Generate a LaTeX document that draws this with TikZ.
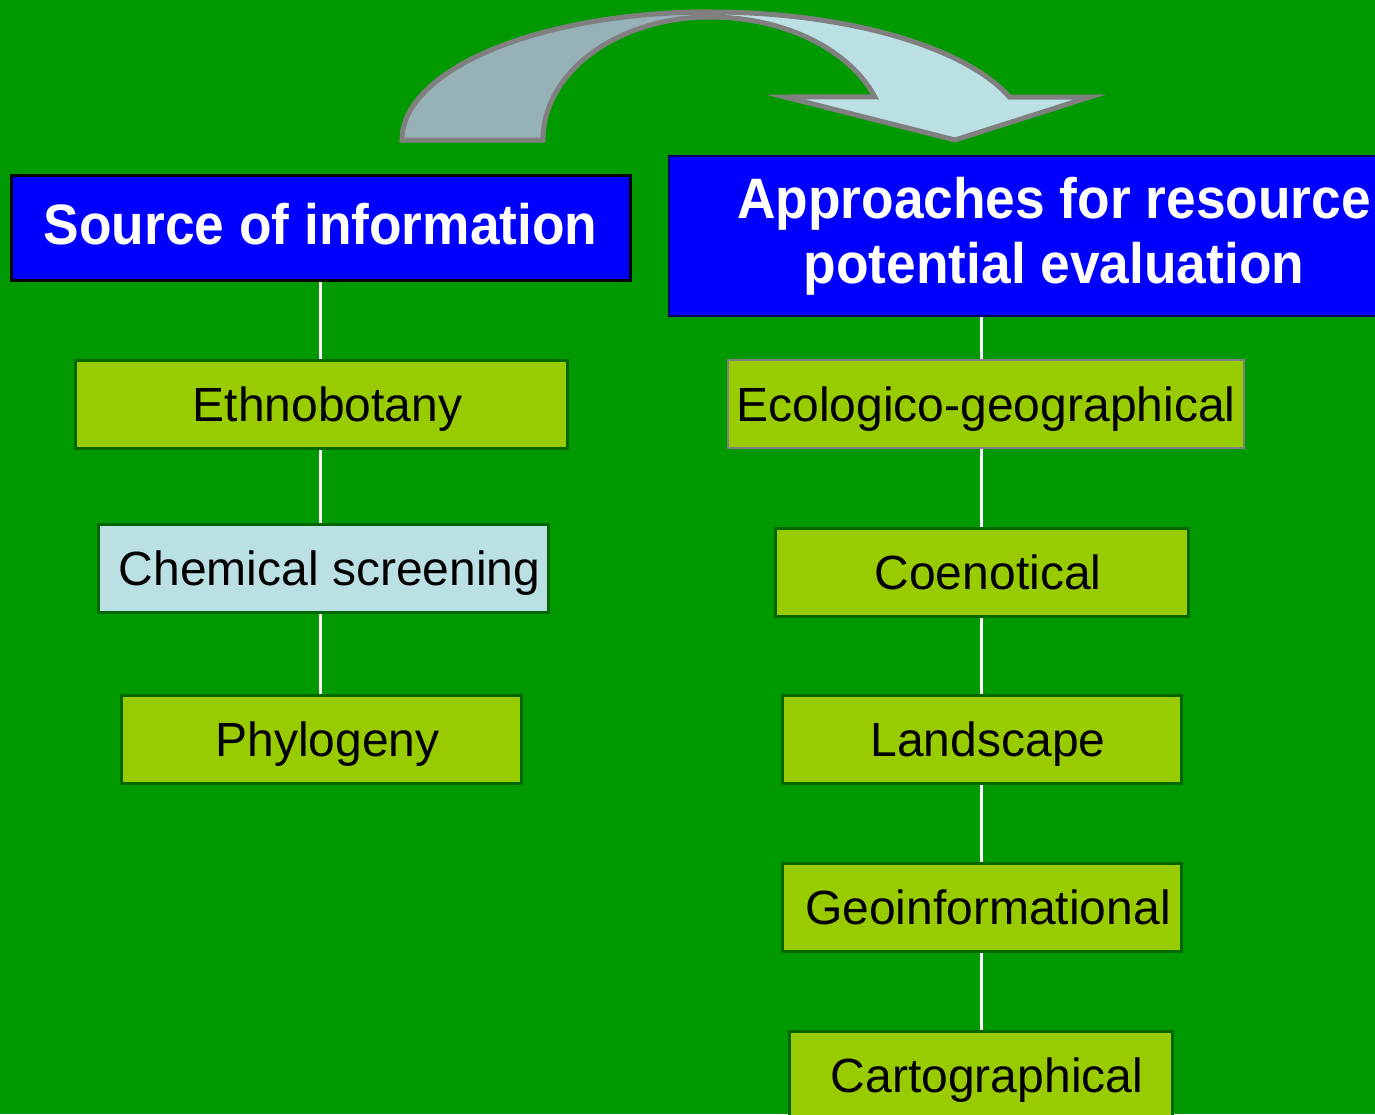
\documentclass[tikz,border=0pt]{standalone}
\usepackage{fontspec}
\setmainfont{Liberation Sans}
\newfontfamily\headfont[FakeStretch=0.935]{Liberation Sans}
\definecolor{bggreen}{RGB}{0,153,0}
\definecolor{leaf}{RGB}{153,204,0}
\definecolor{pale}{RGB}{187,224,227}
\definecolor{shade}{RGB}{150,178,183}
\definecolor{darkleaf}{RGB}{0,102,0}

\begin{document}
\begin{tikzpicture}[x=1pt, y=-1pt,
	headbox/.style={draw, fill=blue, text=white, inner sep=0pt, font=\headfont\bfseries\fontsize{57}{65}\selectfont},
	itembox/.style={draw=darkleaf, line width=3pt, fill=leaf, minimum height=88pt, inner sep=0pt, text height=34pt, text depth=0pt, font=\fontsize{48}{56}\selectfont},
	nudge/.style={execute at begin node=\hspace*{13pt}},
	link/.style={white, line width=2.5pt}]
	\fill[bggreen] (0,0) rectangle (1375,1114);
	\useasboundingbox (0,0) rectangle (1375,1114);
	\clip (0,0) rectangle (1375,1114);
	% curved arrow
	\begin{scope}[shift={(710,140)}, draw=gray, line width=5pt]
		\filldraw[fill=shade] (180:308 and 128) arc[start angle=180, end angle=270, x radius=308, y radius=128] -- (270:167 and 123) arc[start angle=270, end angle=180, x radius=167, y radius=123] -- cycle;
		\filldraw[fill=pale] (266.5:318 and 128) arc[start angle=266.5, end angle=340.4, x radius=318, y radius=128] -- (380,-43) -- (245,0) -- (75,-43) -- (339.5:176 and 123) arc[start angle=339.5, end angle=270, x radius=176, y radius=123] -- cycle;
	\end{scope}
	\node[headbox, line width=3pt, minimum width=619pt, minimum height=105pt, text height=41pt, text depth=8pt] (src) at (320.5,227.5) {Source of information};
	\node[headbox, draw=blue!40!black, line width=1.5pt, minimum width=770pt, minimum height=160pt, align=center] (app) at (1054,236) {Approaches for resource\\potential evaluation};
	% left column
	\node[itembox, nudge, minimum width=492pt] (ethno) at (321,404) {Ethnobotany};
	\node[itembox, fill=pale, nudge, minimum width=450pt] (chem) at (323,568) {Chemical screening};
	\node[itembox, nudge, minimum width=400pt] (phylo) at (321,739) {Phylogeny};
	% right column
	\node[itembox, draw=gray, line width=2pt, minimum width=516pt] (eco) at (986,404) {Ecologico-geographical};
	\node[itembox, nudge, minimum width=413pt] (coen) at (981.5,572) {Coenotical};
	\node[itembox, nudge, minimum width=399pt] (land) at (981.5,739) {Landscape};
	\node[itembox, nudge, minimum width=399pt] (geo) at (981.5,907) {Geoinformational};
	\node[itembox, nudge, minimum width=383pt] (carto) at (980.5,1075) {Cartographical};
	\draw[link] (src.south) -- (src.south |- ethno.north);
	\draw[link] (src.south |- ethno.south) -- (src.south |- chem.north);
	\draw[link] (src.south |- chem.south) -- (src.south |- phylo.north);
	\draw[link] (coen.north |- app.south) -- (coen.north |- eco.north);
	\draw[link] (coen.north |- eco.south) -- (coen.north);
	\draw[link] (coen.south) -- (land.north);
	\draw[link] (land.south) -- (geo.north);
	\draw[link] (geo.south) -- (geo.south |- carto.north);
\end{tikzpicture}
\end{document}
